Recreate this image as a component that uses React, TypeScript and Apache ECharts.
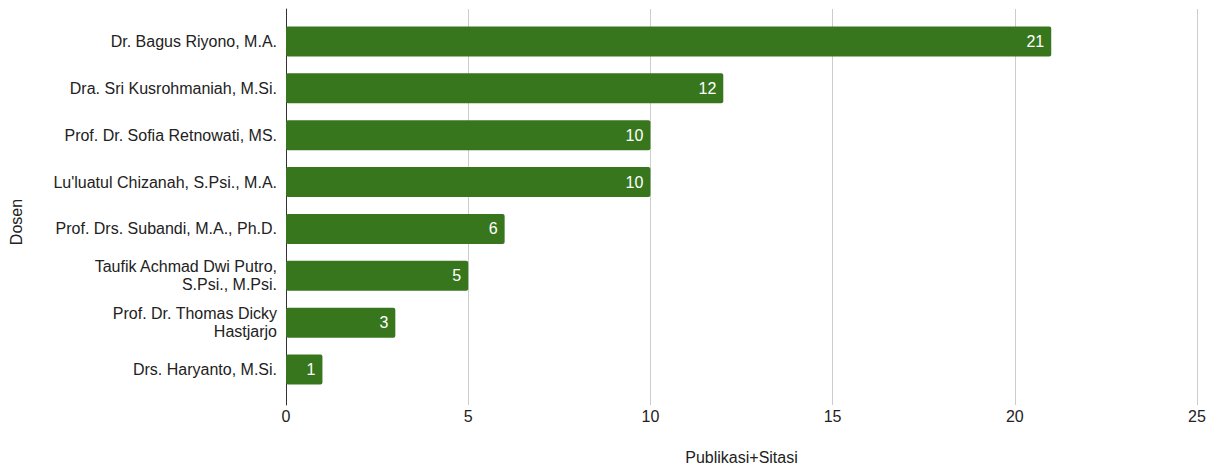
import React, { useEffect, useRef } from "react";
import * as echarts from "echarts";

const categories = [
  "Dr. Bagus Riyono, M.A.",
  "Dra. Sri Kusrohmaniah, M.Si.",
  "Prof. Dr. Sofia Retnowati, MS.",
  "Lu'luatul Chizanah, S.Psi., M.A.",
  "Prof. Drs. Subandi, M.A., Ph.D.",
  "Taufik Achmad Dwi Putro,\nS.Psi., M.Psi.",
  "Prof. Dr. Thomas Dicky\nHastjarjo",
  "Drs. Haryanto, M.Si.",
];
const values = [21, 12, 10, 10, 6, 5, 3, 1];
const xTicks = { min: 0, max: 25, interval: 5 };
const xName = "Publikasi+Sitasi";
const yName = "Dosen";

const FONT = "Liberation Sans, Arial, sans-serif";

export default function App() {
  const ref = useRef<HTMLDivElement>(null);
  useEffect(() => {
    if (!ref.current) return;
    const chart = echarts.init(ref.current, undefined, { renderer: "svg" });
    chart.setOption({
      animation: false,
      textStyle: { fontFamily: FONT },
      grid: [
        { left: 286, right: 17, top: 18, bottom: 73 },
        { left: 286, right: 17, top: 9, bottom: 65 },
      ],
      xAxis: [
        {
          type: "value",
          gridIndex: 0,
          min: xTicks.min,
          max: xTicks.max,
          interval: xTicks.interval,
          axisLine: { show: false },
          axisTick: { show: false },
          splitLine: { show: false },
          axisLabel: { color: "#222", fontSize: 16, margin: 15, fontFamily: FONT },
          name: xName,
          nameLocation: "middle",
          nameGap: 56,
          nameTextStyle: { color: "#222", fontSize: 16, fontFamily: FONT },
        },
        {
          type: "value",
          gridIndex: 1,
          min: xTicks.min,
          max: xTicks.max,
          interval: xTicks.interval,
          axisLine: { show: false },
          axisTick: { show: false },
          axisLabel: { show: false },
          splitLine: { show: true, lineStyle: { color: "#cccccc", width: 1 } },
        },
      ],
      yAxis: [
        {
          type: "category",
          gridIndex: 0,
          data: categories,
          inverse: true,
          axisLine: { show: false },
          axisTick: { show: false },
          axisLabel: {
            color: "#222",
            fontSize: 16,
            margin: 9,
            lineHeight: 18,
            align: "right",
            fontFamily: FONT,
          },
        },
        {
          type: "value",
          gridIndex: 1,
          min: 0,
          max: 1,
          axisLine: { show: true, onZero: false, lineStyle: { color: "#333333", width: 1 } },
          axisTick: { show: false },
          axisLabel: { show: false },
          splitLine: { show: false },
        },
      ],
      graphic: [
        {
          type: "text",
          x: 16,
          y: 222,
          rotation: Math.PI / 2,
          style: {
            text: yName,
            fill: "#222",
            font: `16px ${FONT}`,
            textAlign: "center",
            textVerticalAlign: "middle",
          },
        },
      ],
      series: [
        {
          type: "bar",
          xAxisIndex: 0,
          yAxisIndex: 0,
          data: values,
          barWidth: 30,
          z: 5,
          itemStyle: { color: "#38761d", borderRadius: 2 },
          label: {
            show: true,
            position: "insideRight",
            distance: 7,
            color: "#ffffff",
            fontSize: 16,
            fontFamily: FONT,
          },
        },
      ],
    });
    return () => chart.dispose();
  }, []);
  return (
    <div
      ref={ref}
      style={{ position: "absolute", left: 0, top: 0, width: 1214, height: 470 }}
    />
  );
}
